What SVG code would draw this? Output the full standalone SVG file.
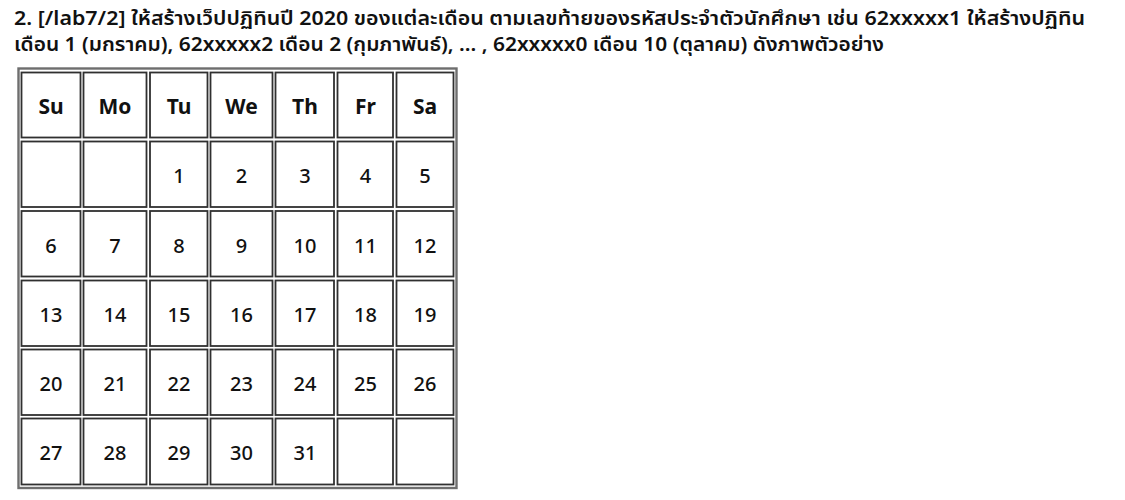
<svg xmlns="http://www.w3.org/2000/svg" width="1125" height="500" viewBox="0 0 1125 500">
<style>
.title{font-family:"Noto Sans","Noto Sans Thai","DejaVu Sans",sans-serif;font-size:20px;font-weight:600;fill:#111}
.cell{fill:#fff;stroke:#303030;stroke-width:1.8}
.hd{font-family:"Noto Sans","DejaVu Sans",sans-serif;font-size:21px;font-weight:700;fill:#111;text-anchor:middle}
.num{font-family:"Noto Sans","DejaVu Sans",sans-serif;font-size:20px;font-weight:500;fill:#111;text-anchor:middle}
</style>
<rect width="1125" height="500" fill="#fff"/>
<g id="title">
<text class="title" x="14" y="25" textLength="1071" lengthAdjust="spacingAndGlyphs">2. [/lab7/2] ให้สร้างเว็ปปฏิทินปี 2020 ของแต่ละเดือน ตามเลขท้ายของรหัสประจำตัวนักศึกษา เช่น 62xxxxx1 ให้สร้างปฏิทิน</text>
<text class="title" x="14" y="51" textLength="870" lengthAdjust="spacingAndGlyphs">เดือน 1 (มกราคม), 62xxxxx2 เดือน 2 (กุมภาพันธ์), ... , 62xxxxx0 เดือน 10 (ตุลาคม) ดังภาพตัวอย่าง</text>
</g>
<g id="table-frame">
<rect x="18.5" y="68.5" width="438" height="419.5" fill="#fff" stroke="#6e6e6e" stroke-width="2.4"/>
</g>
<g id="header">
<g id="h-su"><rect class="cell" x="21.5" y="72.5" width="59" height="65"/><text class="hd" x="51" y="113.5">Su</text></g>
<g id="h-mo"><rect class="cell" x="83.5" y="72.5" width="63" height="65"/><text class="hd" x="115" y="113.5">Mo</text></g>
<g id="h-tu"><rect class="cell" x="150" y="72.5" width="57.5" height="65"/><text class="hd" x="179" y="113.5">Tu</text></g>
<g id="h-we"><rect class="cell" x="210.5" y="72.5" width="62" height="65"/><text class="hd" x="241.5" y="113.5">We</text></g>
<g id="h-th"><rect class="cell" x="275.5" y="72.5" width="58.5" height="65"/><text class="hd" x="305" y="113.5">Th</text></g>
<g id="h-fr"><rect class="cell" x="337.5" y="72.5" width="55.5" height="65"/><text class="hd" x="365.5" y="113.5">Fr</text></g>
<g id="h-sa"><rect class="cell" x="396.5" y="72.5" width="57" height="65"/><text class="hd" x="425" y="113.5">Sa</text></g>
</g>
<g id="row1">
<g id="c-1-1"><rect class="cell" x="21.5" y="141.5" width="59" height="65.5"/></g>
<g id="c-1-2"><rect class="cell" x="83.5" y="141.5" width="63" height="65.5"/></g>
<g id="c-1-3"><rect class="cell" x="150" y="141.5" width="57.5" height="65.5"/><text class="num" x="179" y="183">1</text></g>
<g id="c-1-4"><rect class="cell" x="210.5" y="141.5" width="62" height="65.5"/><text class="num" x="241.5" y="183">2</text></g>
<g id="c-1-5"><rect class="cell" x="275.5" y="141.5" width="58.5" height="65.5"/><text class="num" x="305" y="183">3</text></g>
<g id="c-1-6"><rect class="cell" x="337.5" y="141.5" width="55.5" height="65.5"/><text class="num" x="365.5" y="183">4</text></g>
<g id="c-1-7"><rect class="cell" x="396.5" y="141.5" width="57" height="65.5"/><text class="num" x="425" y="183">5</text></g>
</g>
<g id="row2">
<g id="c-2-1"><rect class="cell" x="21.5" y="211" width="59" height="65.5"/><text class="num" x="51" y="252.5">6</text></g>
<g id="c-2-2"><rect class="cell" x="83.5" y="211" width="63" height="65.5"/><text class="num" x="115" y="252.5">7</text></g>
<g id="c-2-3"><rect class="cell" x="150" y="211" width="57.5" height="65.5"/><text class="num" x="179" y="252.5">8</text></g>
<g id="c-2-4"><rect class="cell" x="210.5" y="211" width="62" height="65.5"/><text class="num" x="241.5" y="252.5">9</text></g>
<g id="c-2-5"><rect class="cell" x="275.5" y="211" width="58.5" height="65.5"/><text class="num" x="305" y="252.5">10</text></g>
<g id="c-2-6"><rect class="cell" x="337.5" y="211" width="55.5" height="65.5"/><text class="num" x="365.5" y="252.5">11</text></g>
<g id="c-2-7"><rect class="cell" x="396.5" y="211" width="57" height="65.5"/><text class="num" x="425" y="252.5">12</text></g>
</g>
<g id="row3">
<g id="c-3-1"><rect class="cell" x="21.5" y="280.5" width="59" height="65.5"/><text class="num" x="51" y="322">13</text></g>
<g id="c-3-2"><rect class="cell" x="83.5" y="280.5" width="63" height="65.5"/><text class="num" x="115" y="322">14</text></g>
<g id="c-3-3"><rect class="cell" x="150" y="280.5" width="57.5" height="65.5"/><text class="num" x="179" y="322">15</text></g>
<g id="c-3-4"><rect class="cell" x="210.5" y="280.5" width="62" height="65.5"/><text class="num" x="241.5" y="322">16</text></g>
<g id="c-3-5"><rect class="cell" x="275.5" y="280.5" width="58.5" height="65.5"/><text class="num" x="305" y="322">17</text></g>
<g id="c-3-6"><rect class="cell" x="337.5" y="280.5" width="55.5" height="65.5"/><text class="num" x="365.5" y="322">18</text></g>
<g id="c-3-7"><rect class="cell" x="396.5" y="280.5" width="57" height="65.5"/><text class="num" x="425" y="322">19</text></g>
</g>
<g id="row4">
<g id="c-4-1"><rect class="cell" x="21.5" y="349.5" width="59" height="65.5"/><text class="num" x="51" y="391">20</text></g>
<g id="c-4-2"><rect class="cell" x="83.5" y="349.5" width="63" height="65.5"/><text class="num" x="115" y="391">21</text></g>
<g id="c-4-3"><rect class="cell" x="150" y="349.5" width="57.5" height="65.5"/><text class="num" x="179" y="391">22</text></g>
<g id="c-4-4"><rect class="cell" x="210.5" y="349.5" width="62" height="65.5"/><text class="num" x="241.5" y="391">23</text></g>
<g id="c-4-5"><rect class="cell" x="275.5" y="349.5" width="58.5" height="65.5"/><text class="num" x="305" y="391">24</text></g>
<g id="c-4-6"><rect class="cell" x="337.5" y="349.5" width="55.5" height="65.5"/><text class="num" x="365.5" y="391">25</text></g>
<g id="c-4-7"><rect class="cell" x="396.5" y="349.5" width="57" height="65.5"/><text class="num" x="425" y="391">26</text></g>
</g>
<g id="row5">
<g id="c-5-1"><rect class="cell" x="21.5" y="418.5" width="59" height="66"/><text class="num" x="51" y="460">27</text></g>
<g id="c-5-2"><rect class="cell" x="83.5" y="418.5" width="63" height="66"/><text class="num" x="115" y="460">28</text></g>
<g id="c-5-3"><rect class="cell" x="150" y="418.5" width="57.5" height="66"/><text class="num" x="179" y="460">29</text></g>
<g id="c-5-4"><rect class="cell" x="210.5" y="418.5" width="62" height="66"/><text class="num" x="241.5" y="460">30</text></g>
<g id="c-5-5"><rect class="cell" x="275.5" y="418.5" width="58.5" height="66"/><text class="num" x="305" y="460">31</text></g>
<g id="c-5-6"><rect class="cell" x="337.5" y="418.5" width="55.5" height="66"/></g>
<g id="c-5-7"><rect class="cell" x="396.5" y="418.5" width="57" height="66"/></g>
</g>
</svg>
